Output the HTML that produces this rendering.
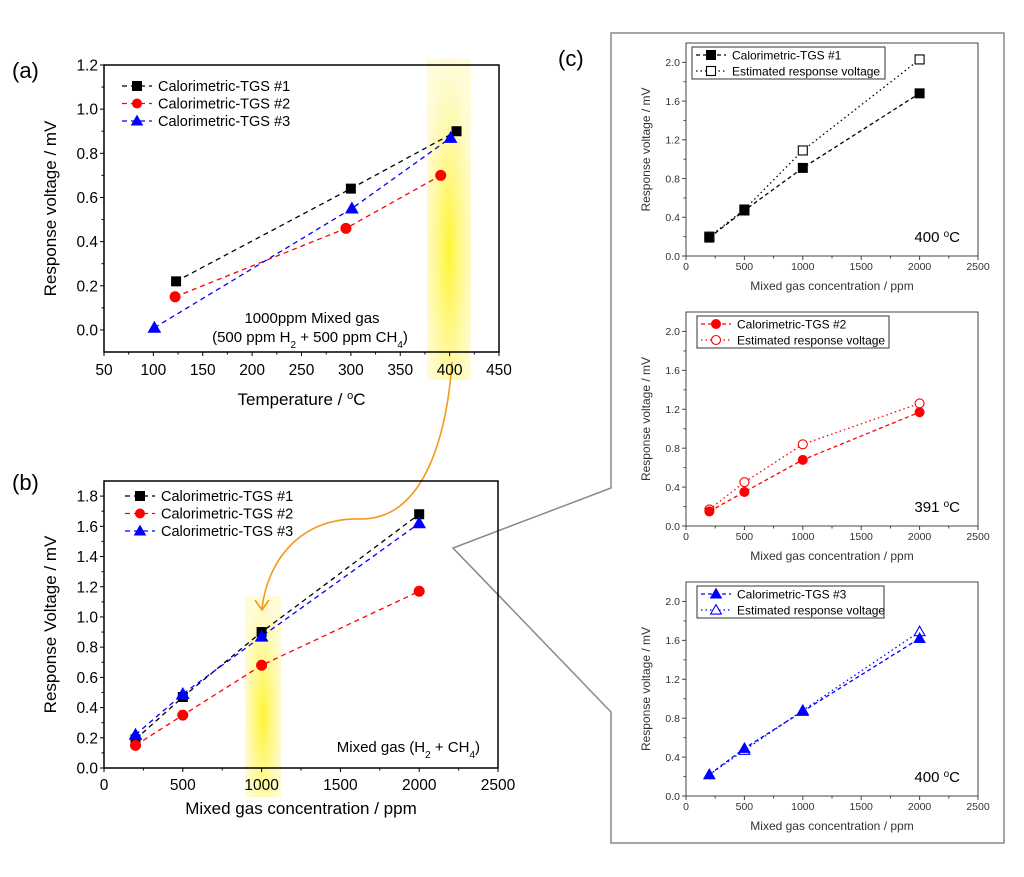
<!DOCTYPE html>
<html><head><meta charset="utf-8"><style>
body{margin:0;background:#fff}
svg{display:block;font-family:"Liberation Sans",sans-serif}
</style></head><body>
<svg id="fig" width="1024" height="877" viewBox="0 0 1024 877" xmlns="http://www.w3.org/2000/svg">
<defs>
<radialGradient id="yg" cx="0.5" cy="0.6" r="0.6">
<stop offset="0" stop-color="#fff200" stop-opacity="0.8"/>
<stop offset="1" stop-color="#fff7a8" stop-opacity="0.45"/>
</radialGradient>
</defs>
<rect x="427" y="59" width="44" height="321" fill="url(#yg)"/>
<rect x="245" y="596" width="36" height="201" fill="url(#yg)"/>
<text x="12" y="78" font-size="22">(a)</text>
<text x="12" y="490" font-size="22">(b)</text>
<text x="558" y="66" font-size="22">(c)</text>
<path d="M611 33 L1004 33 L1004 843 L611 843 L611 712 L453 548 L611 488 Z" fill="none" stroke="#888" stroke-width="1.5"/>
<path d="M452 362 C448 420 430 520 360 519 C300 518 268 560 262 608" fill="none" stroke="#f39a1e" stroke-width="1.6"/>
<path d="M255 600 L262 610 L269 600" fill="none" stroke="#f39a1e" stroke-width="1.6"/>
<g id="plots"></g>
</svg>
<script>
// Panel (a)
const aX1=[123,300,407], aY1=[0.22,0.64,0.90];
const aX2=[122,295,391], aY2=[0.15,0.46,0.70];
const aX3=[101,301,401], aY3=[0.01,0.55,0.87];
const aXTicks=[50,100,150,200,250,300,350,400,450];
const aYTicks=[0.0,0.2,0.4,0.6,0.8,1.0,1.2];
// Panel (b)
const bX=[200,500,1000,2000];
const bY1=[0.19,0.47,0.90,1.68];
const bY2=[0.15,0.35,0.68,1.17];
const bY3=[0.22,0.49,0.87,1.62];
const bXTicks=[0,500,1000,1500,2000,2500];
const bYTicks=[0.0,0.2,0.4,0.6,0.8,1.0,1.2,1.4,1.6,1.8];
// Panel (c)
const cX=[200,500,1000,2000];
const c1Meas=[0.19,0.47,0.91,1.68], c1Est=[0.20,0.48,1.09,2.03];
const c2Meas=[0.15,0.35,0.68,1.17], c2Est=[0.17,0.45,0.84,1.26];
const c3Meas=[0.22,0.49,0.87,1.62], c3Est=[0.22,0.47,0.88,1.69];
const cXTicks=[0,500,1000,1500,2000,2500];
const cYTicks=[0.0,0.4,0.8,1.2,1.6,2.0];

const NS="http://www.w3.org/2000/svg";
const root=document.getElementById('plots');
function el(tag,attrs,parent,txt){const e=document.createElementNS(NS,tag);for(const k in attrs)e.setAttribute(k,attrs[k]);if(txt!==undefined)e.textContent=txt;(parent||root).appendChild(e);return e;}

function marker(g,shape,cx,cy,s,color,filled){
  let m;
  if(shape==='sq') m=el('rect',{x:cx-s,y:cy-s,width:2*s,height:2*s},g);
  else if(shape==='ci') m=el('circle',{cx:cx,cy:cy,r:s},g);
  else m=el('polygon',{points:`${cx},${cy-s*1.2} ${cx-s*1.2},${cy+s*0.9} ${cx+s*1.2},${cy+s*0.9}`},g);
  m.setAttribute('fill',filled?color:'#fff');
  m.setAttribute('stroke',color);
  m.setAttribute('stroke-width',filled?1:1.1);
  
  
  return m;
}

function axes(o){
  const g=el('g',{});
  
  
  const sx=v=>o.x0+(v-o.xmin)/(o.xmax-o.xmin)*(o.x1-o.x0);
  const sy=v=>o.y1-(v-o.ymin)/(o.ymax-o.ymin)*(o.y1-o.y0);
  el('rect',{x:o.x0,y:o.y0,width:o.x1-o.x0,height:o.y1-o.y0,fill:'none',stroke:o.ac,'stroke-width':o.aw},g);
  o.xt.forEach((v,i)=>{
    const x=sx(v);
    el('line',{x1:x,y1:o.y1,x2:x,y2:o.y1+4,stroke:o.ac},g);
    if(i<o.xt.length-1){const xm=sx((v+o.xt[i+1])/2);el('line',{x1:xm,y1:o.y1,x2:xm,y2:o.y1+2.5,stroke:o.ac},g);}
    const t=el('text',{x:x,y:o.y1+o.xtd,'font-size':o.fs,'text-anchor':'middle',fill:o.tc},g,String(v));
    
    
  });
  o.yt.forEach((v,i)=>{
    const y=sy(v);
    el('line',{x1:o.x0,y1:y,x2:o.x0-4,y2:y,stroke:o.ac},g);
    if(i<o.yt.length-1){const ym=sy((v+o.yt[i+1])/2);el('line',{x1:o.x0,y1:ym,x2:o.x0-2.5,y2:ym,stroke:o.ac},g);}
    const t=el('text',{x:o.x0-6,y:y+o.fs*0.36,'font-size':o.fs,'text-anchor':'end',fill:o.tc},g,v.toFixed(1));
    
    
  });
  const xtl=el('text',{x:(o.x0+o.x1)/2,y:o.xty,'font-size':o.tfs,'text-anchor':'middle',fill:o.tc},g);
  xtl.innerHTML=o.xtitle;
  
  
  const yx=o.ytx, yy=(o.y0+o.y1)/2;
  const ytl=el('text',{x:yx,y:yy,'font-size':o.tfs,'text-anchor':'middle',fill:o.tc,transform:`rotate(-90 ${yx} ${yy})`},g,o.ytitle);
  
  
  return {g,sx,sy};
}

function series(ax,xs,ys,color,shape,ms,dash,filled,name){
  const g=el('g',{},ax.g);
  
  
  el('polyline',{points:xs.map((x,i)=>ax.sx(x)+','+ax.sy(ys[i])).join(' '),fill:'none',stroke:color,'stroke-width':1.3,'stroke-dasharray':dash},g);
  xs.forEach((x,i)=>marker(g,shape,ax.sx(x),ax.sy(ys[i]),ms,color,filled));
}

function legend(g,x,y,dy,items,fs,ms){
  items.forEach((it,i)=>{
    const yy=y+i*dy;
    const lg=el('g',{},g);
    
    
    el('line',{x1:x,y1:yy,x2:x+30,y2:yy,stroke:it.c,'stroke-width':1.3,'stroke-dasharray':it.d},lg);
    marker(lg,it.s,x+15,yy,ms,it.c,it.f);
    el('text',{x:x+36,y:yy+fs*0.36,'font-size':fs,fill:'#000'},lg,it.t);
  });
}

// ---- Panel a
const A=axes({name:'chart-a',x0:104,x1:499,y0:65,y1:352,xmin:50,xmax:450,ymin:-0.1,ymax:1.2,xt:aXTicks,yt:aYTicks,fs:15.5,xtd:23,tfs:17,ac:'#000',aw:1.5,tc:'#000',xty:405,ytx:56,xtitle:'Temperature / <tspan baseline-shift="super" font-size="11">o</tspan>C',ytitle:'Response voltage / mV'});
series(A,aX1,aY1,'#000','sq',4.5,'5,4',true,'series-tgs1-a');
series(A,aX2,aY2,'#f00','ci',5,'5,4',true,'series-tgs2-a');
series(A,aX3,aY3,'#00f','tr',5,'5,4',true,'series-tgs3-a');
legend(A.g,122,86,17.5,[{c:'#000',d:'5,4',s:'sq',f:true,t:'Calorimetric-TGS #1'},{c:'#f00',d:'5,4',s:'ci',f:true,t:'Calorimetric-TGS #2'},{c:'#00f',d:'5,4',s:'tr',f:true,t:'Calorimetric-TGS #3'}],14.5,4.5);
let t=el('text',{x:312,y:323,'font-size':15,'text-anchor':'middle'},A.g,'1000ppm Mixed gas');

t=el('text',{x:310,y:342,'font-size':15,'text-anchor':'middle'},A.g);
t.innerHTML='(500 ppm H<tspan baseline-shift="sub" font-size="10">2</tspan> + 500 ppm CH<tspan baseline-shift="sub" font-size="10">4</tspan>)';


// ---- Panel b
const B=axes({name:'chart-b',x0:104,x1:498,y0:481,y1:768,xmin:0,xmax:2500,ymin:0,ymax:1.9,xt:bXTicks,yt:bYTicks,fs:15.5,xtd:22,tfs:17,ac:'#000',aw:1.5,tc:'#000',xty:814,ytx:56,xtitle:'Mixed gas concentration / ppm',ytitle:'Response Voltage / mV'});
series(B,bX,bY1,'#000','sq',4.5,'5,4',true,'series-tgs1-b');
series(B,bX,bY2,'#f00','ci',5,'5,4',true,'series-tgs2-b');
series(B,bX,bY3,'#00f','tr',5,'5,4',true,'series-tgs3-b');
legend(B.g,125,496,17.5,[{c:'#000',d:'5,4',s:'sq',f:true,t:'Calorimetric-TGS #1'},{c:'#f00',d:'5,4',s:'ci',f:true,t:'Calorimetric-TGS #2'},{c:'#00f',d:'5,4',s:'tr',f:true,t:'Calorimetric-TGS #3'}],14.5,4.5);
t=el('text',{x:480,y:752,'font-size':15,'text-anchor':'end'},B.g);
t.innerHTML='Mixed gas (H<tspan baseline-shift="sub" font-size="10">2</tspan> + CH<tspan baseline-shift="sub" font-size="10">4</tspan>)';


// ---- Panel c
function cPanel(top,zero,name,meas,est,color,shape,label,temp,lx,lw){
  const ax=axes({name:name,x0:686,x1:978,y0:top,y1:zero,xmin:0,xmax:2500,ymin:0,ymax:2.2,xt:cXTicks,yt:cYTicks,fs:10.5,xtd:14,tfs:12,ac:'#444',aw:1,tc:'#333',xty:zero+34,ytx:650,xtitle:'Mixed gas concentration / ppm',ytitle:'Response voltage / mV'});
  series(ax,cX,est,color,shape,4.5,'1.5,3',false,name+'-estimated');
  series(ax,cX,meas,color,shape,4.5,'4,3',true,name+'-measured');
  const lg=el('g',{},ax.g);
  
  
  el('rect',{x:lx,y:top+4,width:lw,height:32,fill:'#fff',stroke:'#333'},lg);
  legend(lg,lx+4,top+12,16,[{c:color,d:'4,3',s:shape,f:true,t:label},{c:color,d:'1.5,3',s:shape,f:false,t:'Estimated response voltage'}],12,4.5);
  const tt=el('text',{x:960,y:zero-14,'font-size':15,'text-anchor':'end'},ax.g);
  tt.innerHTML=temp+' <tspan baseline-shift="super" font-size="10">o</tspan>C';
  
  
}
cPanel(43,256,'chart-c1',c1Meas,c1Est,'#000','sq','Calorimetric-TGS #1','400',692,193);
cPanel(312,526,'chart-c2',c2Meas,c2Est,'#f00','ci','Calorimetric-TGS #2','391',697,192);
cPanel(582,796,'chart-c3',c3Meas,c3Est,'#00f','tr','Calorimetric-TGS #3','400',697,187);
</script>
</body></html>
